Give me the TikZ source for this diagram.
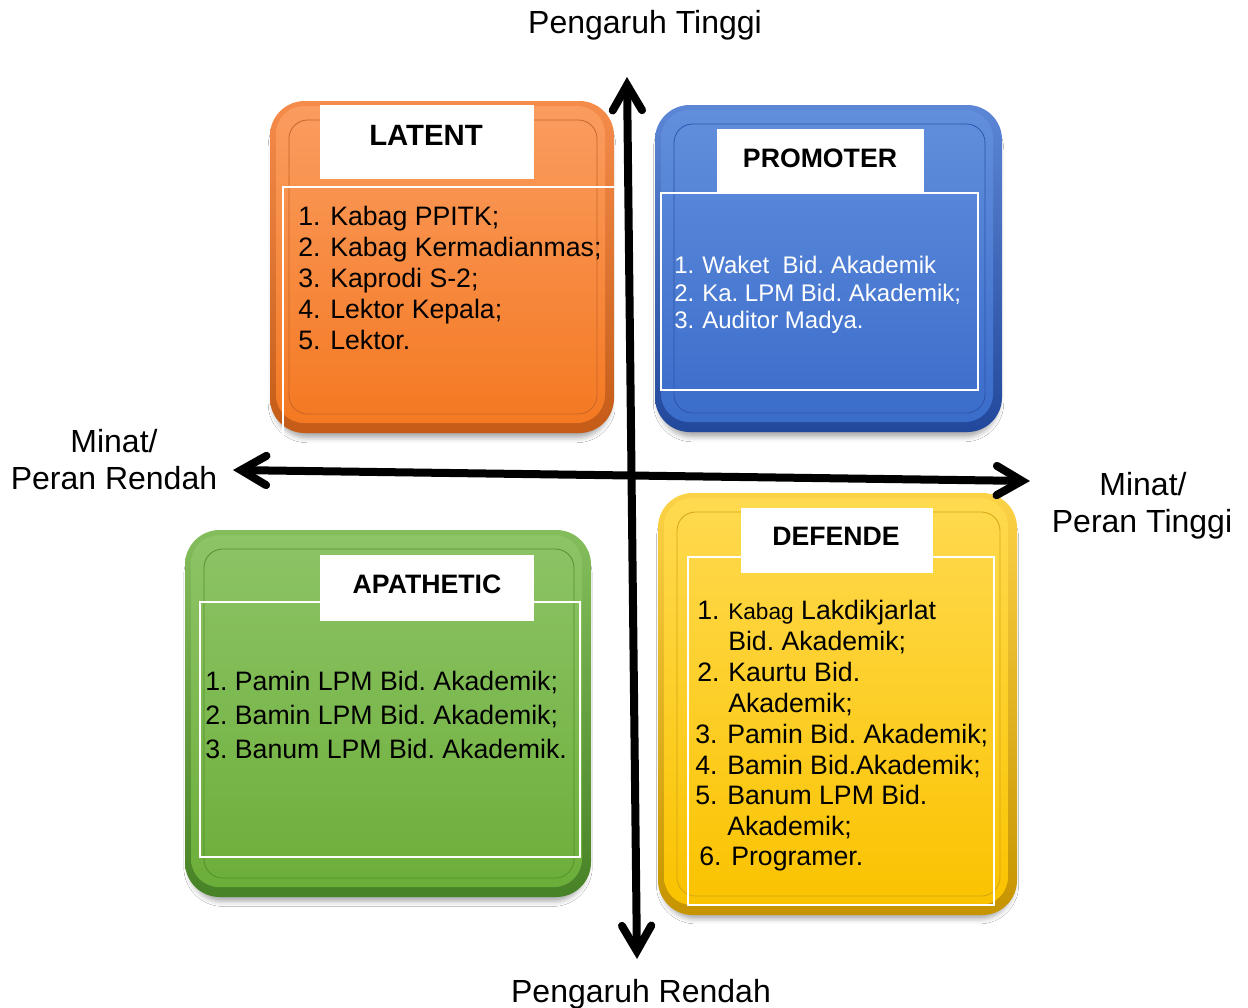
\documentclass[tikz,border=0pt]{standalone}
\usepackage{fontspec}
\setmainfont{Liberation Sans}
\usetikzlibrary{arrows.meta,shadows.blur}
\frenchspacing

% face / rim / detail-line colours of the four quadrant boxes
\definecolor{orgTop}{RGB}{250,156,95}
\definecolor{orgBot}{RGB}{244,121,34}
\definecolor{orgRimTop}{RGB}{246,140,75}
\definecolor{orgRimBot}{RGB}{196,92,24}
\definecolor{orgLine}{RGB}{200,100,40}
\definecolor{bluTop}{RGB}{98,143,220}
\definecolor{bluBot}{RGB}{58,108,202}
\definecolor{bluRimTop}{RGB}{92,134,214}
\definecolor{bluRimBot}{RGB}{34,72,155}
\definecolor{bluLine}{RGB}{45,85,170}
\definecolor{grnTop}{RGB}{141,196,102}
\definecolor{grnBot}{RGB}{108,174,58}
\definecolor{grnRimTop}{RGB}{132,190,92}
\definecolor{grnRimBot}{RGB}{72,130,38}
\definecolor{grnLine}{RGB}{85,145,45}
\definecolor{ylwTop}{RGB}{255,218,80}
\definecolor{ylwBot}{RGB}{250,195,0}
\definecolor{ylwRimTop}{RGB}{252,210,70}
\definecolor{ylwRimBot}{RGB}{198,148,0}
\definecolor{ylwLine}{RGB}{210,165,20}

% bevelled rounded box: #1,#2 top-left corner, #3,#4 bottom-right corner, #5 colour prefix
\newcommand\bevelbox[5]{%
  \path[rounded corners=26pt,
        blur shadow={shadow xshift=0pt,shadow yshift=-6pt,shadow scale=0.98,
                     shadow blur radius=4pt,shadow opacity=35},
        top color=#5RimTop, bottom color=#5RimBot] (#1,#2) rectangle (#3,#4);
  \path[rounded corners=21pt, top color=#5Top, bottom color=#5Bot]
        ({#1+6},{#2+5}) rectangle ({#3-9},{#4-10});
  \draw[rounded corners=14pt, #5Line, line width=0.6pt]
        ({#1+19},{#2+19}) rectangle ({#3-17},{#4-19});
}

\begin{document}
\begin{tikzpicture}[x=0.75pt,y=-0.75pt,
  lst/.style={anchor=base west, inner sep=0pt, font=\fontsize{20}{24}\selectfont},
  prm/.style={lst, font=\fontsize{18}{21}\selectfont, text=white},
  axlabel/.style={anchor=base, inner sep=0pt, font=\fontsize{24}{28}\selectfont},
  ttl/.style={anchor=base, inner sep=0pt, font=\bfseries\fontsize{20}{24}\selectfont},
  frame/.style={draw=white, line width=1.5pt},
  titlebox/.style={fill=white},
  axis/.style={line width=6pt,
    {Straight Barb[length=19pt,width=22pt,line cap=round]}-{Straight Barb[length=19pt,width=22pt,line cap=round]}}
]
\useasboundingbox[fill=white] (0,0) rectangle (1248,1007);

% ---------- LATENT ----------
\bevelbox{270}{101}{614}{433}{org}
\fill[titlebox] (320,105) rectangle (534,179);
\draw[frame] (283,437) -- (283,187) -- (616,187) -- (616,437);
\node[ttl, font=\bfseries\fontsize{22}{26}\selectfont] (latent) at (426,145) {LATENT};
\foreach \t [count=\i] in {Kabag PPITK;,Kabag Kermadianmas;,Kaprodi S-2;,Lektor Kepala;,Lektor.}{
  \node[lst] (lat-n\i) at (298,{225+31*(\i-1)}) {\i.};
  \node[lst] (lat-t\i) at (330,{225+31*(\i-1)}) {\t};
}

% ---------- PROMOTER ----------
\bevelbox{655}{105}{1002}{432}{blu}
\draw[frame] (661,193) rectangle (978,390);
\fill[titlebox] (717,129) rectangle (924,194);
\node[ttl] (promoter) at (820,167) {PROMOTER};
\node[prm] (pro-n1) at (674,273) {1.};
\node[prm] (pro-t1) at (702,273) {Waket\ \ Bid. Akademik};
\node[prm] (pro-n2) at (674,301) {2.};
\node[prm] (pro-t2) at (702,301) {Ka. LPM Bid. Akademik;};
\node[prm] (pro-n3) at (674,328) {3.};
\node[prm] (pro-t3) at (702,328) {Auditor Madya.};

% ---------- APATHETIC ----------
\bevelbox{185}{530}{591}{897}{grn}
\draw[frame] (200,602) rectangle (580,857);
\fill[titlebox] (320,555) rectangle (534,621);
\node[ttl] (apathetic) at (427,593) {APATHETIC};
\node[lst] (apa-1) at (205,690) {1. Pamin LPM Bid. Akademik;};
\node[lst] (apa-2) at (205,724) {2. Bamin LPM Bid. Akademik;};
\node[lst] (apa-3) at (205,758) {3. Banum LPM Bid. Akademik.};

% ---------- DEFENDE ----------
\bevelbox{658}{493}{1017}{915}{ylw}
\draw[frame] (688,557) rectangle (994,905);
\fill[titlebox] (741,508) rectangle (933,573);
\node[ttl] (defende) at (836,545) {DEFENDE};
\node[lst] (def-n1)  at (697,619) {1.};
\node[lst] (def-t1)  at (728,619) {{\fontsize{17}{20}\selectfont Kabag} Lakdikjarlat};
\node[lst] (def-t1b) at (728,650) {Bid. Akademik;};
\node[lst] (def-n2)  at (697,681) {2.};
\node[lst] (def-t2)  at (728,681) {Kaurtu Bid.};
\node[lst] (def-t2b) at (728,712) {Akademik;};
\node[lst] (def-n3)  at (695,743) {3.};
\node[lst] (def-t3)  at (727,743) {Pamin Bid. Akademik;};
\node[lst] (def-n4)  at (695,774) {4.};
\node[lst] (def-t4)  at (727,774) {Bamin Bid.Akademik;};
\node[lst] (def-n5)  at (695,804) {5.};
\node[lst] (def-t5)  at (727,804) {Banum LPM Bid.};
\node[lst] (def-t5b) at (727,835) {Akademik;};
\node[lst] (def-n6)  at (699,865) {6.};
\node[lst] (def-t6)  at (731,865) {Programer.};

% ---------- axes ----------
\coordinate (vtop) at (627,77);
\coordinate (vbot) at (637,959);
\coordinate (hleft) at (233,470);
\coordinate (hright) at (1030,481);
\draw[axis] (vbot) -- (vtop);
\draw[axis] (hleft) -- (hright);

% ---------- axis labels ----------
\node[axlabel] (hi)  at (645,33)   {Pengaruh Tinggi};
\node[axlabel] (lo)  at (641,1002) {Pengaruh Rendah};
\node[axlabel] (l1)  at (114,452)  {Minat/};
\node[axlabel] (l2)  at (114,489)  {Peran Rendah};
\node[axlabel] (r1)  at (1143,495) {Minat/};
\node[axlabel] (r2)  at (1142,532) {Peran Tinggi};
\end{tikzpicture}
\end{document}
